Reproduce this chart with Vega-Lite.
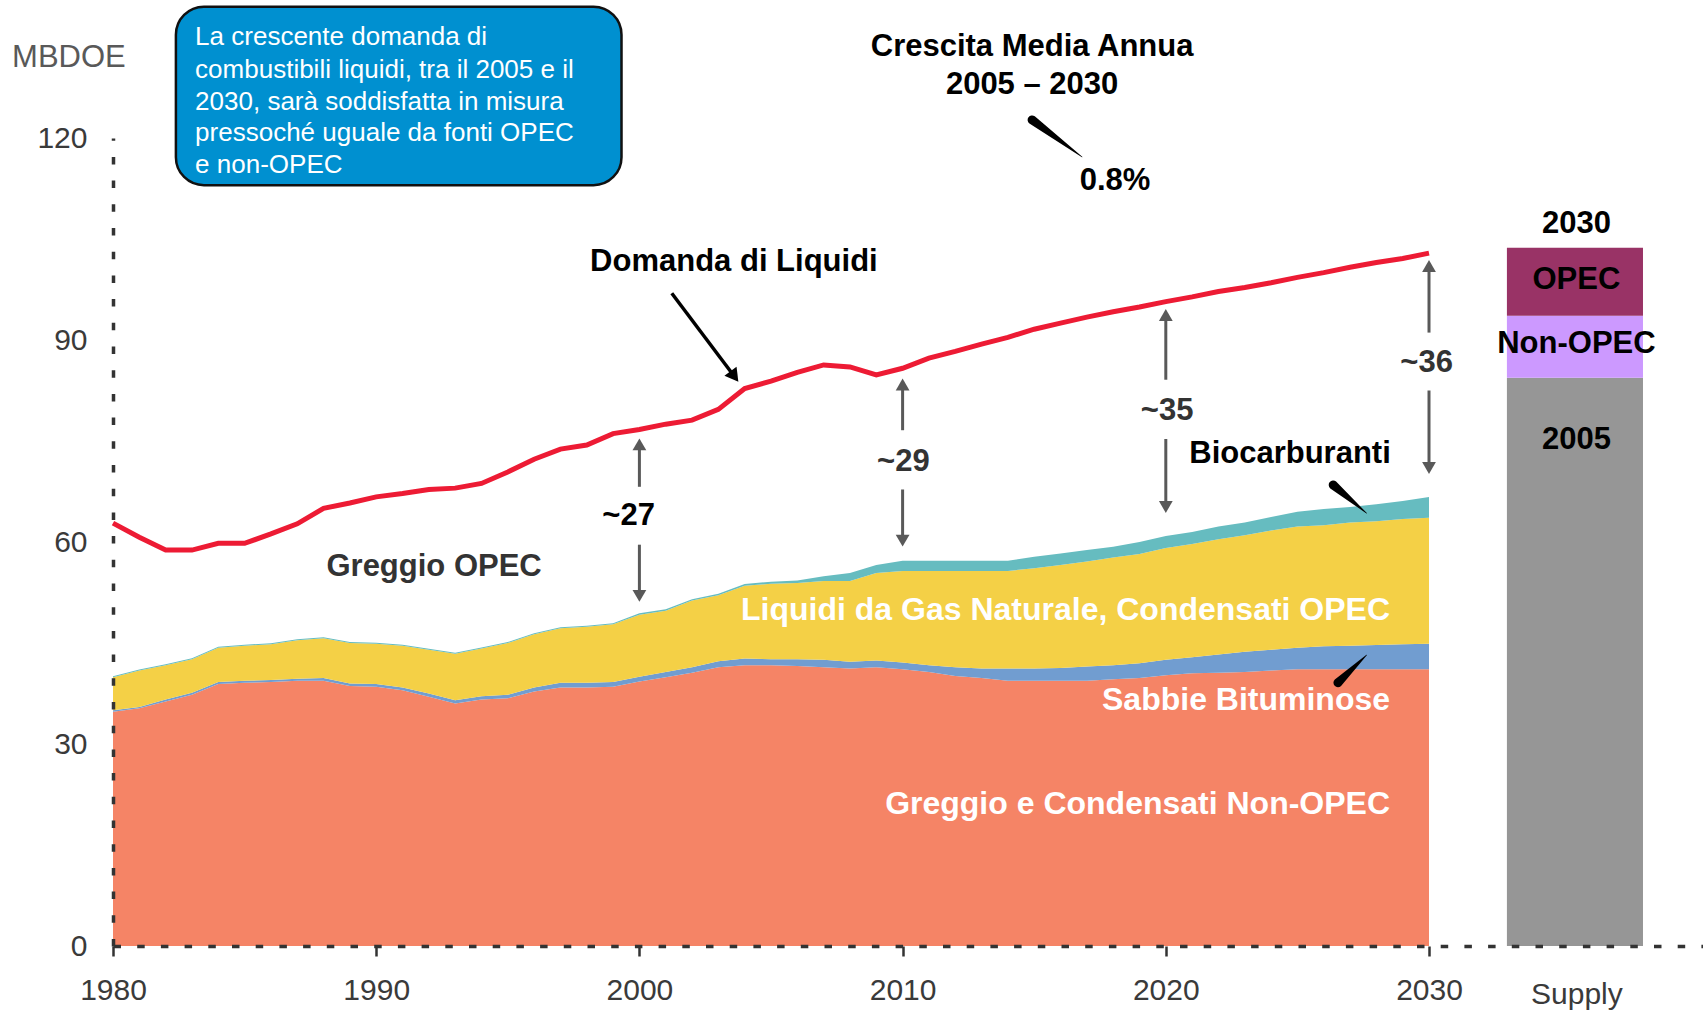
{
  "$schema": "https://vega.github.io/schema/vega-lite/v6.json",
  "width": 1590,
  "height": 808,
  "autosize": {"type": "none"},
  "padding": {"left": 113, "top": 138, "right": 0, "bottom": 69},
  "background": "white",
  "config": {"view": {"stroke": null}, "font": "Liberation Sans"},
  "datasets": {
    "series": [
      {"year": 1980, "crude": 34.8, "sands_top": 35.0, "ngl_top": 39.9, "bio_top": 40.05, "demand": 62.8},
      {"year": 1981, "crude": 35.3, "sands_top": 35.5, "ngl_top": 40.9, "bio_top": 41.05, "demand": 60.7},
      {"year": 1982, "crude": 36.3, "sands_top": 36.6, "ngl_top": 41.7, "bio_top": 41.85, "demand": 58.8},
      {"year": 1983, "crude": 37.3, "sands_top": 37.6, "ngl_top": 42.6, "bio_top": 42.75, "demand": 58.8},
      {"year": 1984, "crude": 38.9, "sands_top": 39.2, "ngl_top": 44.3, "bio_top": 44.45, "demand": 59.8},
      {"year": 1985, "crude": 39.1, "sands_top": 39.4, "ngl_top": 44.6, "bio_top": 44.75, "demand": 59.8},
      {"year": 1986, "crude": 39.2, "sands_top": 39.5, "ngl_top": 44.8, "bio_top": 44.95, "demand": 61.2},
      {"year": 1987, "crude": 39.4, "sands_top": 39.7, "ngl_top": 45.4, "bio_top": 45.55, "demand": 62.7},
      {"year": 1988, "crude": 39.4, "sands_top": 39.8, "ngl_top": 45.7, "bio_top": 45.85, "demand": 65.0},
      {"year": 1989, "crude": 38.6, "sands_top": 39.0, "ngl_top": 45.0, "bio_top": 45.15, "demand": 65.8},
      {"year": 1990, "crude": 38.5, "sands_top": 38.9, "ngl_top": 44.9, "bio_top": 45.05, "demand": 66.7},
      {"year": 1991, "crude": 38.0, "sands_top": 38.4, "ngl_top": 44.6, "bio_top": 44.75, "demand": 67.2},
      {"year": 1992, "crude": 37.0, "sands_top": 37.5, "ngl_top": 44.0, "bio_top": 44.15, "demand": 67.8},
      {"year": 1993, "crude": 36.0, "sands_top": 36.5, "ngl_top": 43.4, "bio_top": 43.55, "demand": 68.0},
      {"year": 1994, "crude": 36.6, "sands_top": 37.1, "ngl_top": 44.2, "bio_top": 44.35, "demand": 68.7},
      {"year": 1995, "crude": 36.8, "sands_top": 37.3, "ngl_top": 45.0, "bio_top": 45.15, "demand": 70.4},
      {"year": 1996, "crude": 37.8, "sands_top": 38.4, "ngl_top": 46.3, "bio_top": 46.45, "demand": 72.3},
      {"year": 1997, "crude": 38.4, "sands_top": 39.1, "ngl_top": 47.2, "bio_top": 47.35, "demand": 73.8},
      {"year": 1998, "crude": 38.4, "sands_top": 39.1, "ngl_top": 47.4, "bio_top": 47.55, "demand": 74.4},
      {"year": 1999, "crude": 38.5, "sands_top": 39.2, "ngl_top": 47.8, "bio_top": 47.95, "demand": 76.1},
      {"year": 2000, "crude": 39.3, "sands_top": 40.0, "ngl_top": 49.2, "bio_top": 49.4, "demand": 76.7},
      {"year": 2001, "crude": 39.9, "sands_top": 40.7, "ngl_top": 49.8, "bio_top": 50.0, "demand": 77.5},
      {"year": 2002, "crude": 40.6, "sands_top": 41.4, "ngl_top": 51.3, "bio_top": 51.5, "demand": 78.1},
      {"year": 2003, "crude": 41.4, "sands_top": 42.3, "ngl_top": 52.1, "bio_top": 52.3, "demand": 79.7},
      {"year": 2004, "crude": 41.7, "sands_top": 42.7, "ngl_top": 53.5, "bio_top": 53.75, "demand": 82.8},
      {"year": 2005, "crude": 41.7, "sands_top": 42.6, "ngl_top": 53.8, "bio_top": 54.1, "demand": 83.9},
      {"year": 2006, "crude": 41.6, "sands_top": 42.6, "ngl_top": 53.9, "bio_top": 54.3, "demand": 85.2},
      {"year": 2007, "crude": 41.4, "sands_top": 42.5, "ngl_top": 54.2, "bio_top": 54.9, "demand": 86.3},
      {"year": 2008, "crude": 41.2, "sands_top": 42.2, "ngl_top": 54.2, "bio_top": 55.4, "demand": 86.0},
      {"year": 2009, "crude": 41.4, "sands_top": 42.4, "ngl_top": 55.4, "bio_top": 56.6, "demand": 84.8},
      {"year": 2010, "crude": 41.1, "sands_top": 42.1, "ngl_top": 55.7, "bio_top": 57.2, "demand": 85.8},
      {"year": 2011, "crude": 40.7, "sands_top": 41.7, "ngl_top": 55.7, "bio_top": 57.2, "demand": 87.3},
      {"year": 2012, "crude": 40.1, "sands_top": 41.4, "ngl_top": 55.7, "bio_top": 57.2, "demand": 88.3},
      {"year": 2013, "crude": 39.8, "sands_top": 41.2, "ngl_top": 55.7, "bio_top": 57.2, "demand": 89.4},
      {"year": 2014, "crude": 39.4, "sands_top": 41.2, "ngl_top": 55.7, "bio_top": 57.2, "demand": 90.4},
      {"year": 2015, "crude": 39.4, "sands_top": 41.2, "ngl_top": 56.1, "bio_top": 57.8, "demand": 91.6},
      {"year": 2016, "crude": 39.4, "sands_top": 41.3, "ngl_top": 56.6, "bio_top": 58.3, "demand": 92.5},
      {"year": 2017, "crude": 39.4, "sands_top": 41.5, "ngl_top": 57.1, "bio_top": 58.8, "demand": 93.4},
      {"year": 2018, "crude": 39.6, "sands_top": 41.7, "ngl_top": 57.7, "bio_top": 59.3, "demand": 94.2},
      {"year": 2019, "crude": 39.8, "sands_top": 42.0, "ngl_top": 58.2, "bio_top": 60.0, "demand": 94.9},
      {"year": 2020, "crude": 40.2, "sands_top": 42.5, "ngl_top": 59.1, "bio_top": 60.9, "demand": 95.7},
      {"year": 2021, "crude": 40.5, "sands_top": 42.9, "ngl_top": 59.7, "bio_top": 61.5, "demand": 96.4},
      {"year": 2022, "crude": 40.6, "sands_top": 43.3, "ngl_top": 60.4, "bio_top": 62.3, "demand": 97.2},
      {"year": 2023, "crude": 40.7, "sands_top": 43.7, "ngl_top": 61.0, "bio_top": 62.9, "demand": 97.8},
      {"year": 2024, "crude": 40.9, "sands_top": 44.0, "ngl_top": 61.7, "bio_top": 63.7, "demand": 98.5},
      {"year": 2025, "crude": 41.1, "sands_top": 44.3, "ngl_top": 62.3, "bio_top": 64.5, "demand": 99.3},
      {"year": 2026, "crude": 41.1, "sands_top": 44.5, "ngl_top": 62.5, "bio_top": 64.9, "demand": 100.0},
      {"year": 2027, "crude": 41.1, "sands_top": 44.6, "ngl_top": 62.9, "bio_top": 65.2, "demand": 100.8},
      {"year": 2028, "crude": 41.1, "sands_top": 44.7, "ngl_top": 63.1, "bio_top": 65.6, "demand": 101.5},
      {"year": 2029, "crude": 41.1, "sands_top": 44.8, "ngl_top": 63.4, "bio_top": 66.1, "demand": 102.1},
      {"year": 2030, "crude": 41.1, "sands_top": 44.9, "ngl_top": 63.6, "bio_top": 66.7, "demand": 102.9}
    ],
    "supply": [
      {"part": "2005", "lo": 0, "hi": 84.4},
      {"part": "Non-OPEC", "lo": 84.4, "hi": 93.6},
      {"part": "OPEC", "lo": 93.6, "hi": 103.7}
    ],
    "shafts": [
      {"year": 2000, "from": 68.2, "to": 74.5},
      {"year": 2000, "from": 52.0, "to": 59.6},
      {"year": 2010, "from": 76.6, "to": 83.4},
      {"year": 2010, "from": 60.2, "to": 67.8},
      {"year": 2020, "from": 84.1, "to": 93.7},
      {"year": 2020, "from": 65.2, "to": 75.3},
      {"year": 2030, "from": 91.1, "to": 101.0},
      {"year": 2030, "from": 71.0, "to": 82.5}
    ],
    "heads": [
      {"year": 2000, "value": 74.5, "dir": "up"},
      {"year": 2000, "value": 52.0, "dir": "down"},
      {"year": 2010, "value": 83.4, "dir": "up"},
      {"year": 2010, "value": 60.2, "dir": "down"},
      {"year": 2020, "value": 93.7, "dir": "up"},
      {"year": 2020, "value": 65.2, "dir": "down"},
      {"year": 2030, "value": 101.0, "dir": "up"},
      {"year": 2030, "value": 71.0, "dir": "down"}
    ],
    "wedges": [
      {"id": "growth", "end": "base", "year": 2014.92, "value": 122.68},
      {"id": "growth", "end": "tip", "year": 2016.82, "value": 117.18},
      {"id": "bio", "end": "base", "year": 2026.36, "value": 68.47},
      {"id": "bio", "end": "tip", "year": 2027.63, "value": 64.27},
      {"id": "sands", "end": "base", "year": 2026.54, "value": 39.11},
      {"id": "sands", "end": "tip", "year": 2027.63, "value": 43.22}
    ],
    "blackLabels": [
      {"label": "Crescita Media Annua", "year": 2014.92, "value": 133.5},
      {"label": "2005 – 2030", "year": 2014.92, "value": 127.9},
      {"label": "0.8%", "year": 2018.07, "value": 113.6},
      {"label": "Domanda di Liquidi", "year": 2003.59, "value": 101.6},
      {"label": "Biocarburanti", "year": 2024.72, "value": 73.1},
      {"label": "~27", "year": 1999.59, "value": 63.8},
      {"label": "2030", "year": 2035.6, "value": 107.2},
      {"label": "OPEC", "year": 2035.6, "value": 98.85},
      {"label": "Non-OPEC", "year": 2035.6, "value": 89.35},
      {"label": "2005", "year": 2035.6, "value": 75.1}
    ],
    "grayLabels": [
      {"label": "Greggio OPEC", "year": 1992.2, "value": 56.3},
      {"label": "~29", "year": 2010.03, "value": 71.9},
      {"label": "~35", "year": 2020.05, "value": 79.4},
      {"label": "~36", "year": 2029.91, "value": 86.6}
    ],
    "whiteLabels": [
      {"label": "Liquidi da Gas Naturale, Condensati OPEC", "year": 2028.52, "value": 49.9},
      {"label": "Sabbie Bituminose", "year": 2028.52, "value": 36.5},
      {"label": "Greggio e Condensati Non-OPEC", "year": 2028.52, "value": 21.1}
    ],
    "boxLines": [
      {"label": "La crescente domanda di", "year": 1983.12, "value": 135.05},
      {"label": "combustibili liquidi, tra il 2005 e il", "year": 1983.12, "value": 130.1},
      {"label": "2030, sarà soddisfatta in misura", "year": 1983.12, "value": 125.4},
      {"label": "pressoché uguale da fonti OPEC", "year": 1983.12, "value": 120.7},
      {"label": "e non-OPEC", "year": 1983.12, "value": 116.0}
    ]
  },
  "layer": [
    {
      "data": {"name": "series"},
      "mark": {"type": "area", "color": "#F58466", "interpolate": "linear"},
      "encoding": {
        "x": {
          "field": "year", "type": "quantitative",
          "scale": {"domain": [1980, 2040.41], "nice": false, "zero": false},
          "axis": {
            "values": [1980, 1990, 2000, 2010, 2020, 2030, 2035.6],
            "format": "d",
            "labelExpr": "datum.value > 2031 ? 'Supply' : datum.label",
            "title": null, "grid": false,
            "domainColor": "#333333", "domainDash": [7.5, 16.2], "domainWidth": 3.5,
            "tickColor": "#333333", "tickWidth": 2.5, "tickSize": 10,
            "tickOpacity": {"condition": {"test": "datum.value > 2031", "value": 0}, "value": 1},
            "labelFont": "Liberation Sans", "labelFontSize": 30, "labelColor": "#3a3a3a",
            "labelPadding": {"condition": {"test": "datum.value > 2031", "value": 38}, "value": 34},
            "labelBaseline": "middle", "labelFlush": false, "labelOverlap": false,
            "zindex": 1
          }
        },
        "y": {
          "field": "crude", "type": "quantitative",
          "scale": {"domain": [0, 120], "nice": false},
          "axis": {
            "values": [0, 30, 60, 90, 120],
            "title": "MBDOE", "titleAngle": 0, "titleX": -44.6, "titleY": -80.4,
            "titleAlign": "center", "titleBaseline": "middle",
            "titleFont": "Liberation Sans", "titleFontSize": 31, "titleFontWeight": "normal", "titleColor": "#595959",
            "grid": false, "ticks": false, "tickSize": 0, "labelPadding": 26,
            "labelFont": "Liberation Sans", "labelFontSize": 30, "labelColor": "#3a3a3a",
            "domainColor": "#333333", "domainDash": [7.5, 16.2], "domainWidth": 3.5,
            "zindex": 1
          }
        }
      }
    },
    {
      "data": {"name": "series"},
      "mark": {"type": "area", "color": "#719DD0", "interpolate": "linear"},
      "encoding": {
        "x": {"field": "year", "type": "quantitative"},
        "y": {"field": "sands_top", "type": "quantitative"},
        "y2": {"field": "crude"}
      }
    },
    {
      "data": {"name": "series"},
      "mark": {"type": "area", "color": "#F4D046", "interpolate": "linear"},
      "encoding": {
        "x": {"field": "year", "type": "quantitative"},
        "y": {"field": "ngl_top", "type": "quantitative"},
        "y2": {"field": "sands_top"}
      }
    },
    {
      "data": {"name": "series"},
      "mark": {"type": "area", "color": "#66BCC0", "interpolate": "linear"},
      "encoding": {
        "x": {"field": "year", "type": "quantitative"},
        "y": {"field": "bio_top", "type": "quantitative"},
        "y2": {"field": "ngl_top"}
      }
    },
    {
      "data": {"name": "supply"},
      "mark": {"type": "rect"},
      "encoding": {
        "x": {"datum": 2032.96, "type": "quantitative"},
        "x2": {"datum": 2038.13},
        "y": {"field": "hi", "type": "quantitative"},
        "y2": {"field": "lo"},
        "color": {
          "field": "part", "type": "nominal",
          "scale": {"domain": ["2005", "Non-OPEC", "OPEC"], "range": ["#969696", "#CC99FF", "#993366"]},
          "legend": null
        }
      }
    },
    {
      "data": {"name": "series"},
      "mark": {"type": "line", "color": "#ED1B34", "strokeWidth": 5},
      "encoding": {
        "x": {"field": "year", "type": "quantitative"},
        "y": {"field": "demand", "type": "quantitative"}
      }
    },
    {
      "data": {"name": "shafts"},
      "mark": {"type": "rule", "color": "#595959", "strokeWidth": 3},
      "encoding": {
        "x": {"field": "year", "type": "quantitative"},
        "y": {"field": "from", "type": "quantitative"},
        "y2": {"field": "to"}
      }
    },
    {
      "data": {"name": "heads"},
      "mark": {"type": "point", "filled": true, "color": "#595959", "opacity": 1, "size": 190, "strokeWidth": 0},
      "encoding": {
        "x": {"field": "year", "type": "quantitative"},
        "y": {"field": "value", "type": "quantitative"},
        "shape": {
          "field": "dir", "type": "nominal",
          "scale": {"domain": ["up", "down"], "range": ["triangle-up", "triangle-down"]},
          "legend": null
        }
      }
    },
    {
      "data": {"values": [{}]},
      "mark": {"type": "rule", "color": "#000000", "strokeWidth": 3.5},
      "encoding": {
        "x": {"datum": 2001.23, "type": "quantitative"},
        "y": {"datum": 96.94, "type": "quantitative"},
        "x2": {"datum": 2003.61},
        "y2": {"datum": 84.58}
      }
    },
    {
      "data": {"values": [{}]},
      "mark": {"type": "point", "shape": "triangle-down", "angle": 323, "filled": true, "color": "#000000", "opacity": 1, "size": 230, "strokeWidth": 0},
      "encoding": {
        "x": {"datum": 2003.61, "type": "quantitative"},
        "y": {"datum": 84.58, "type": "quantitative"}
      }
    },
    {
      "data": {"name": "wedges"},
      "mark": {"type": "trail", "color": "#000000"},
      "encoding": {
        "x": {"field": "year", "type": "quantitative"},
        "y": {"field": "value", "type": "quantitative"},
        "detail": {"field": "id"},
        "size": {
          "field": "end", "type": "ordinal",
          "scale": {"domain": ["base", "tip"], "range": [9, 0.5]},
          "legend": null
        }
      }
    },
    {
      "data": {"name": "blackLabels"},
      "mark": {"type": "text", "font": "Liberation Sans", "fontWeight": "bold", "fontSize": 31, "color": "#000000", "align": "center", "baseline": "middle"},
      "encoding": {
        "x": {"field": "year", "type": "quantitative"},
        "y": {"field": "value", "type": "quantitative"},
        "text": {"field": "label"}
      }
    },
    {
      "data": {"name": "grayLabels"},
      "mark": {"type": "text", "font": "Liberation Sans", "fontWeight": "bold", "fontSize": 31, "color": "#333333", "align": "center", "baseline": "middle"},
      "encoding": {
        "x": {"field": "year", "type": "quantitative"},
        "y": {"field": "value", "type": "quantitative"},
        "text": {"field": "label"}
      }
    },
    {
      "data": {"name": "whiteLabels"},
      "mark": {"type": "text", "font": "Liberation Sans", "fontWeight": "bold", "fontSize": 32, "color": "#FFFFFF", "align": "right", "baseline": "middle"},
      "encoding": {
        "x": {"field": "year", "type": "quantitative"},
        "y": {"field": "value", "type": "quantitative"},
        "text": {"field": "label"}
      }
    },
    {
      "data": {"values": [{}]},
      "mark": {"type": "rect", "fill": "#0090D0", "stroke": "#111111", "strokeWidth": 2.5, "cornerRadius": 28},
      "encoding": {
        "x": {"datum": 1982.39, "type": "quantitative"},
        "x2": {"datum": 1999.32},
        "y": {"datum": 139.5, "type": "quantitative"},
        "y2": {"datum": 113.0}
      }
    },
    {
      "data": {"name": "boxLines"},
      "mark": {"type": "text", "font": "Liberation Sans", "fontSize": 26, "color": "#FFFFFF", "align": "left", "baseline": "middle"},
      "encoding": {
        "x": {"field": "year", "type": "quantitative"},
        "y": {"field": "value", "type": "quantitative"},
        "text": {"field": "label"}
      }
    }
  ]
}
